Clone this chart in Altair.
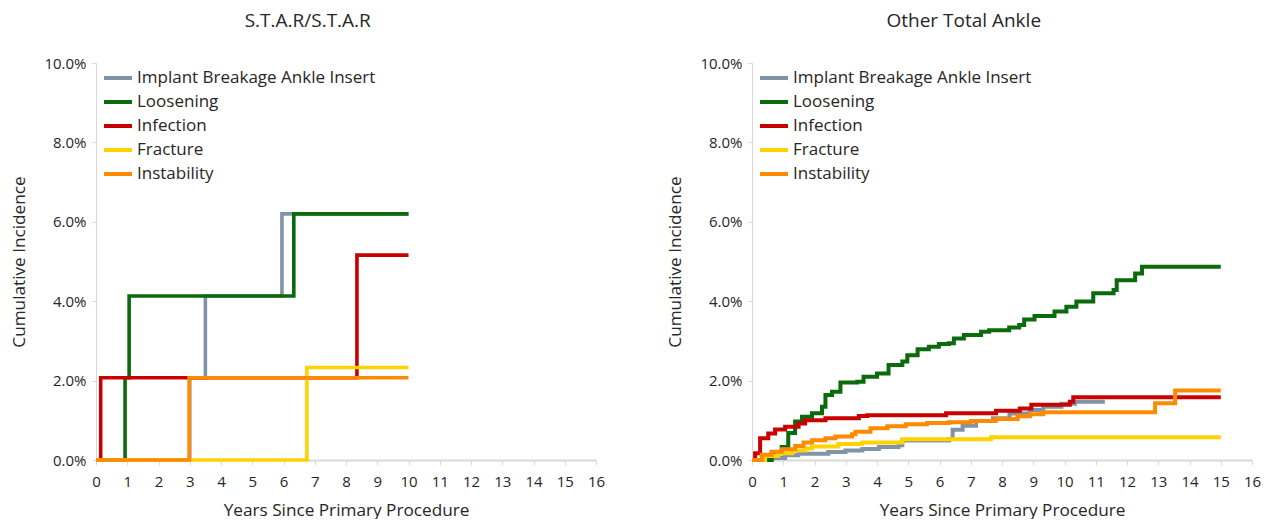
import altair as alt
import pandas as pd

SERIES = ["Implant Breakage Ankle Insert", "Loosening", "Infection", "Fracture", "Instability"]
COLORS = ["#8094A8", "#0B6A0B", "#C80000", "#FFD200", "#FF8A00"]

# ---- S.T.A.R/S.T.A.R (years, cumulative incidence %) step-after points ----
L_gray_x = [0, 3.0, 3.5, 5.95, 10]
L_gray_y = [0, 2.07, 4.13, 6.2, 6.2]
L_green_x = [0, 0.93, 1.06, 6.33, 10]
L_green_y = [0, 2.07, 4.13, 6.2, 6.2]
L_red_x = [0, 0.15, 8.35, 10]
L_red_y = [0, 2.07, 5.16, 5.16]
L_yellow_x = [0, 6.75, 10]
L_yellow_y = [0, 2.33, 2.33]
L_orange_x = [0, 2.98, 10]
L_orange_y = [0, 2.07, 2.07]

# ---- Other Total Ankle ----
R_gray_x = [0, 0.63, 1.06, 1.48, 2.44, 2.99, 3.53, 4.06, 4.69, 4.81, 6.31, 6.42, 6.74, 7.17, 7.71, 8.24, 8.88, 9.32, 9.9, 10.33, 11.29]
R_gray_y = [0, 0.05, 0.12, 0.16, 0.2, 0.24, 0.28, 0.33, 0.37, 0.49, 0.53, 0.76, 0.86, 0.98, 1.05, 1.17, 1.26, 1.34, 1.42, 1.47, 1.47]
R_green_x = [0, 0.63, 0.95, 1.16, 1.38, 1.6, 1.92, 2.24, 2.35, 2.56, 2.83, 3.37, 3.57, 4.0, 4.37, 4.81, 4.97, 5.3, 5.66, 5.98, 6.3, 6.46, 6.78, 7.33, 7.59, 8.23, 8.55, 8.71, 9.04, 9.68, 10.06, 10.38, 10.92, 11.57, 11.67, 12.26, 12.48, 15.0]
R_green_y = [0, 0.17, 0.33, 0.68, 0.97, 1.09, 1.18, 1.34, 1.64, 1.72, 1.95, 1.97, 2.1, 2.18, 2.39, 2.48, 2.64, 2.79, 2.85, 2.92, 2.94, 3.06, 3.15, 3.23, 3.27, 3.34, 3.4, 3.54, 3.63, 3.74, 3.86, 3.99, 4.2, 4.28, 4.53, 4.7, 4.87, 4.87]
R_red_x = [0, 0.1, 0.26, 0.52, 0.74, 1.06, 1.49, 1.7, 2.35, 3.42, 3.69, 6.21, 7.81, 8.57, 8.94, 10.17, 10.28, 15.0]
R_red_y = [0, 0.17, 0.55, 0.67, 0.77, 0.84, 0.92, 1.0, 1.05, 1.11, 1.13, 1.18, 1.24, 1.3, 1.39, 1.47, 1.58, 1.58]
R_yellow_x = [0, 0.42, 0.84, 1.28, 1.7, 1.92, 2.76, 3.53, 4.81, 7.65, 15.0]
R_yellow_y = [0, 0.1, 0.17, 0.24, 0.29, 0.34, 0.4, 0.44, 0.52, 0.57, 0.57]
R_orange_x = [0, 0.31, 0.63, 0.95, 1.38, 1.65, 1.92, 2.35, 2.67, 3.2, 3.31, 3.79, 4.33, 4.92, 5.6, 6.3, 7.0, 7.8, 8.5, 8.9, 9.32, 12.9, 13.54, 15.0]
R_orange_y = [0, 0.13, 0.21, 0.27, 0.35, 0.44, 0.5, 0.55, 0.59, 0.65, 0.71, 0.8, 0.85, 0.9, 0.93, 0.95, 0.98, 1.03, 1.1, 1.15, 1.2, 1.43, 1.75, 1.75]

X_TICKS = list(range(0, 17))
Y_TICKS = [0, 0.02, 0.04, 0.06, 0.08, 0.10]

FONT = "Open Sans"
TEXT = "#262626"


def frame(pairs):
    rows = []
    for name, xs, ys in pairs:
        for i, (x, y) in enumerate(zip(xs, ys)):
            rows.append({"series": name, "years": x, "ci": y / 100.0, "i": i})
    return pd.DataFrame(rows)


def panel(title, pairs, sw):
    df = frame(pairs)
    base = alt.Chart(df)
    layers = []
    for name in SERIES:
        layers.append(
            base.transform_filter(alt.datum.series == name)
            .mark_line(interpolate="step-after", strokeWidth=sw, strokeCap="butt")
            .encode(
                x=alt.X("years:Q", scale=alt.Scale(domain=[0, 16], nice=False),
                        axis=alt.Axis(values=X_TICKS, title="Years Since Primary Procedure",
                                      grid=False, domainColor="#D9D9D9", domainWidth=2,
                                      tickColor="#D9D9D9", tickSize=5, labelPadding=9,
                                      titlePadding=12, labelFlush=False)),
                y=alt.Y("ci:Q", scale=alt.Scale(domain=[0, 0.10], nice=False),
                        axis=alt.Axis(values=Y_TICKS, format=".1%", title="Cumulative Incidence",
                                      grid=False, domainColor="#D9D9D9", domainWidth=1,
                                      tickColor="#D9D9D9", tickSize=4, labelPadding=6,
                                      titlePadding=15)),
                order="i:Q",
                color=alt.Color("series:N", scale=alt.Scale(domain=SERIES, range=COLORS),
                                legend=alt.Legend(title=None, orient="none", legendX=6, legendY=-1,
                                                  symbolType="stroke", symbolStrokeWidth=4,
                                                  symbolSize=784, labelFontSize=17,
                                                  labelOffset=3, rowPadding=-0.3, padding=0,
                                                  labelColor=TEXT, labelFont=FONT,
                                                  labelLimit=400)),
            )
        )
    return alt.layer(*layers).properties(
        width=500, height=397,
        title=alt.TitleParams(title, fontSize=19, font=FONT, fontWeight="normal",
                              color=TEXT, anchor="middle", frame="bounds", offset=25),
    )


left = panel("S.T.A.R/S.T.A.R", [
    (SERIES[0], L_gray_x, L_gray_y), (SERIES[1], L_green_x, L_green_y),
    (SERIES[2], L_red_x, L_red_y), (SERIES[3], L_yellow_x, L_yellow_y),
    (SERIES[4], L_orange_x, L_orange_y)], 3.6)
right = panel("Other Total Ankle", [
    (SERIES[0], R_gray_x, R_gray_y), (SERIES[1], R_green_x, R_green_y),
    (SERIES[2], R_red_x, R_red_y), (SERIES[3], R_yellow_x, R_yellow_y),
    (SERIES[4], R_orange_x, R_orange_y)], 4)

chart = (
    alt.hconcat(left, right, spacing=61)
    .resolve_scale(color="independent")
    .resolve_legend(color="independent")
    .properties(padding={"left": 2, "top": 4, "right": 0, "bottom": 0})
    .configure_view(stroke=None)
    .configure_axis(labelFont=FONT, titleFont=FONT, labelFontSize=15, titleFontSize=17.2,
                    labelColor=TEXT, titleColor=TEXT, titleFontWeight="normal")
)

chart.save("out.html", embed_options={"renderer": "svg", "actions": False})
